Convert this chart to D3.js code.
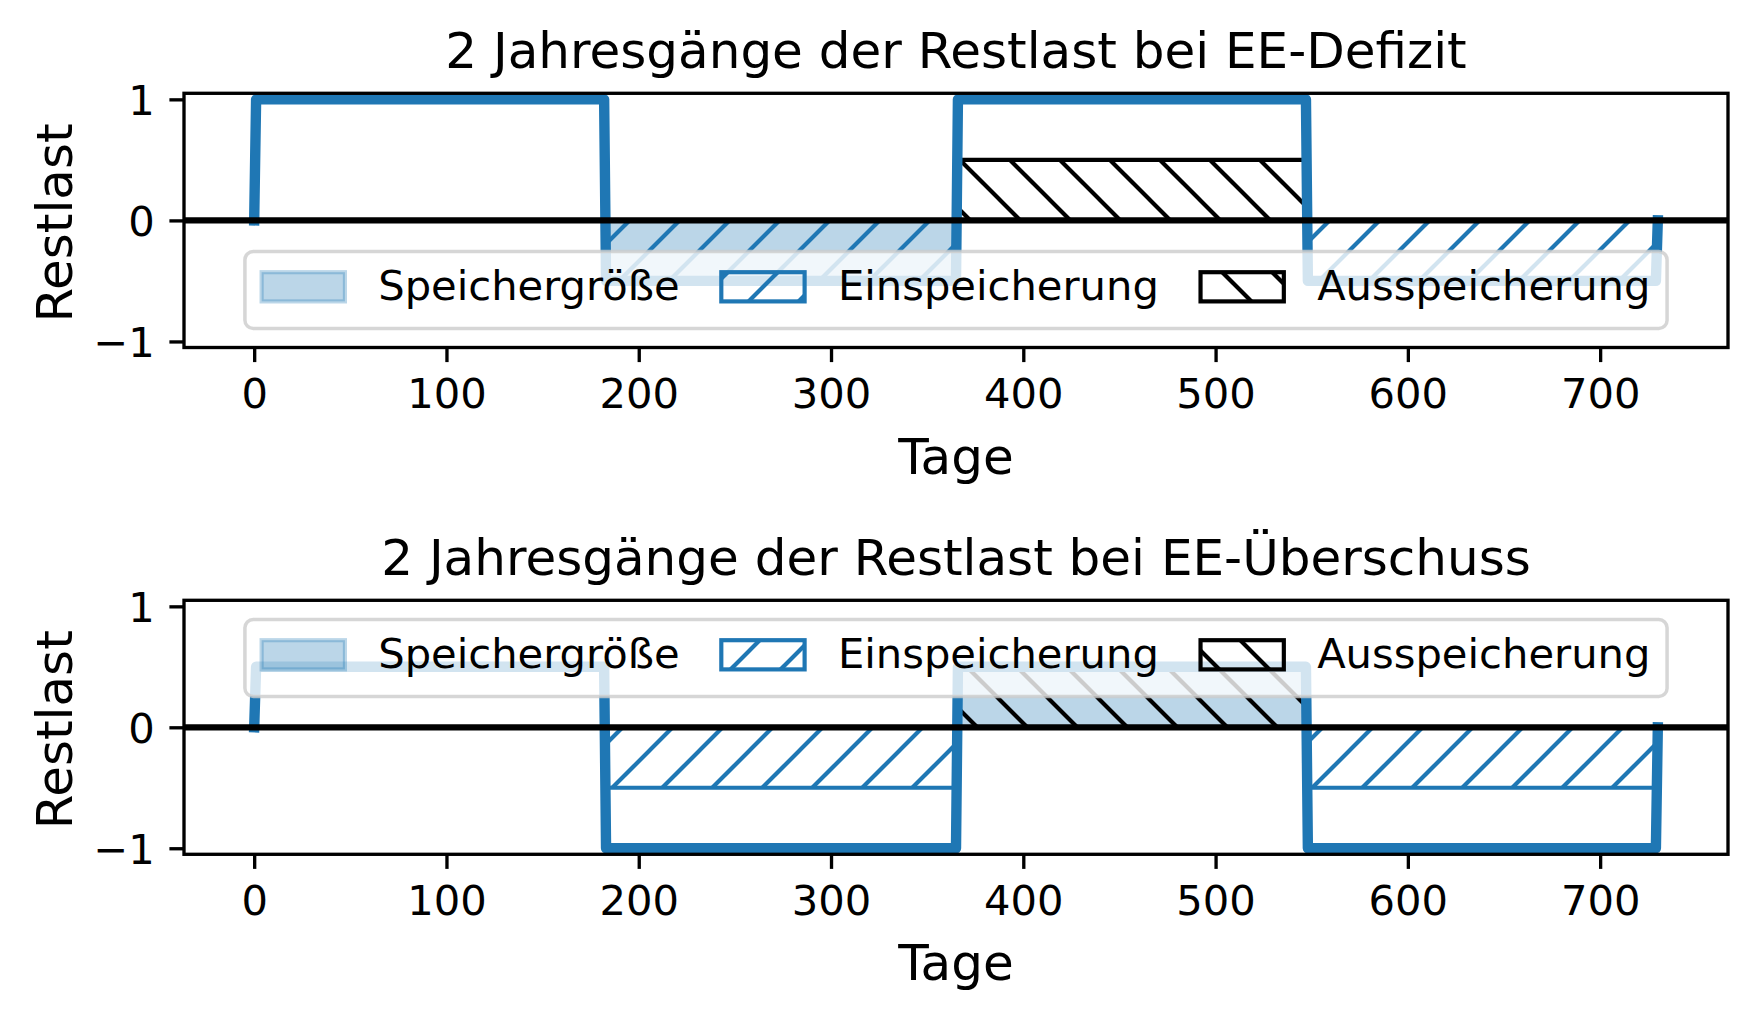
<!DOCTYPE html>
<html><head><meta charset="utf-8">
<script src="https://cdn.jsdelivr.net/npm/d3@7"></script>
<style>body{margin:0;background:#fff}</style>
</head><body>
<script>
// ---- data ----
const days = [0, 1, 182, 183, 365, 366, 547, 548, 729, 730];
const restlastDefizit = [0, 1, 1, -0.5, -0.5, 1, 1, -0.5, -0.5, 0];
const restlastUeberschuss = [0, 0.5, 0.5, -1, -1, 0.5, 0.5, -1, -1, 0];
// [startDay, endDay, level] — filled between 0 and level
const speicherDefizit = [[183, 365, -0.5]];
const einDefizit = [[183, 365, -0.5], [548, 729, -0.5]];
const ausDefizit = [[366, 547, 0.5]];
const speicherUeberschuss = [[366, 547, 0.5]];
const einUeberschuss = [[183, 365, -0.5], [548, 729, -0.5]];
const ausUeberschuss = [[366, 547, 0.5]];
const xTicks = [0, 100, 200, 300, 400, 500, 600, 700];
const yTicks = [-1, 0, 1];
const titles = ["2 Jahresgänge der Restlast bei EE-Defizit", "2 Jahresgänge der Restlast bei EE-Überschuss"];
const legendLabels = ["Speichergröße", "Einspeicherung", "Ausspeicherung"];

// ---- layout ----
const W = 1756, H = 1020;
const BLUE = "#1f77b4";
const FS_TICK = 41.67, FS_TITLE = 50;
const L = 184, R = 1728;
const svg = d3.select("body").append("svg").attr("width", W).attr("height", H)
  .style("font-family", '"DejaVu Sans", sans-serif');
svg.append("rect").attr("width", W).attr("height", H).attr("fill", "#fff");

const defs = svg.append("defs");
function hatch(id, color, dir) {
  const p = defs.append("pattern").attr("id", id).attr("patternUnits", "userSpaceOnUse")
    .attr("width", 50).attr("height", 50);
  const segs = dir === "/" ?
    [[0, 50, 50, 0], [-10, 10, 10, -10], [40, 60, 60, 40]] :
    [[0, 0, 50, 50], [-10, 40, 10, 60], [40, -10, 60, 10]];
  segs.forEach(s => p.append("line").attr("x1", s[0]).attr("y1", s[1]).attr("x2", s[2]).attr("y2", s[3])
    .attr("stroke", color).attr("stroke-width", 4.17));
}
hatch("hBlue", BLUE, "/");
hatch("hBlack", "#000", "\\");

const x = d3.scaleLinear().domain([-36.5, 766.5]).range([L, R]);

function panel(top, bottom, title, values, speicher, ein, aus, legendTop) {
  const y = d3.scaleLinear().domain([-1.05, 1.05]).range([bottom, top]);
  const area = d3.area().x(d => x(d[0])).y0(y(0)).y1(d => y(d[1]));
  const seg = s => area([[s[0], s[2]], [s[1], s[2]]]);

  // fills
  svg.append("g").selectAll("path").data(speicher).join("path").attr("d", seg)
    .attr("fill", BLUE).attr("fill-opacity", 0.3)
    .attr("stroke", BLUE).attr("stroke-opacity", 0.3).attr("stroke-width", 4.17);
  svg.append("g").selectAll("path").data(ein).join("path").attr("d", seg)
    .attr("fill", "url(#hBlue)").attr("stroke", BLUE).attr("stroke-width", 4.17);
  svg.append("g").selectAll("path").data(aus).join("path").attr("d", seg)
    .attr("fill", "url(#hBlack)").attr("stroke", "#000").attr("stroke-width", 4.17);

  // line
  const line = d3.line().x((d, i) => x(days[i])).y(d => y(d));
  svg.append("path").attr("d", line(values)).attr("fill", "none")
    .attr("stroke", BLUE).attr("stroke-width", 10.4)
    .attr("stroke-linejoin", "round").attr("stroke-linecap", "square");

  // zero line
  svg.append("line").attr("x1", L).attr("x2", R).attr("y1", y(0)).attr("y2", y(0))
    .attr("stroke", "#000").attr("stroke-width", 6.25);

  // spines
  svg.append("rect").attr("x", L).attr("y", top).attr("width", R - L).attr("height", bottom - top)
    .attr("fill", "none").attr("stroke", "#000").attr("stroke-width", 3.33);

  // axes
  const gx = svg.append("g").attr("transform", `translate(0,${bottom})`)
    .call(d3.axisBottom(x).tickValues(xTicks).tickSize(14.6).tickPadding(14.6).tickFormat(d3.format("d")));
  const gy = svg.append("g").attr("transform", `translate(${L},0)`)
    .call(d3.axisLeft(y).tickValues(yTicks).tickSize(14.6).tickPadding(14.6).tickFormat(d3.format("d")));
  [gx, gy].forEach(g => {
    g.select(".domain").remove();
    g.selectAll(".tick line").attr("stroke", "#000").attr("stroke-width", 3.33);
    g.selectAll(".tick text").attr("fill", "#000").style("font-size", FS_TICK + "px")
      .style("font-family", '"DejaVu Sans", sans-serif');
  });
  gx.selectAll(".tick text").attr("dy", "0.76em");
  gy.selectAll(".tick text").attr("dy", "0.37em");

  const cx = (L + R) / 2;
  svg.append("text").attr("x", cx).attr("y", top - 25).attr("text-anchor", "middle")
    .style("font-size", FS_TITLE + "px").text(title);
  svg.append("text").attr("x", cx).attr("y", bottom + 126).attr("text-anchor", "middle")
    .style("font-size", FS_TITLE + "px").text("Tage");
  const ymid = (top + bottom) / 2 + 2.5;
  svg.append("text").attr("transform", `translate(72,${ymid}) rotate(-90)`).attr("text-anchor", "middle")
    .style("font-size", FS_TITLE + "px").text("Restlast");

  // legend
  const bp = 16.7, hl = 83.3, hh = 29.2, htp = 33.3, cs = 41.67, lh = 77;
  const widths = legendLabels.map(t => {
    const tt = svg.append("text").style("font-size", FS_TICK + "px").text(t);
    const w = tt.node().getComputedTextLength(); tt.remove(); return w;
  });
  const total = 2 * bp + d3.sum(widths) + legendLabels.length * (hl + htp) + (legendLabels.length - 1) * cs;
  const lx = cx - total / 2;
  svg.append("rect").attr("x", lx).attr("y", legendTop).attr("width", total).attr("height", lh)
    .attr("rx", 8.3).attr("fill", "#fff").attr("fill-opacity", 0.8)
    .attr("stroke", "#ccc").attr("stroke-opacity", 0.8).attr("stroke-width", 3.5);
  let cur = lx + bp;
  const hc = legendTop + 35.3;
  legendLabels.forEach((t, i) => {
    const r = svg.append("rect").attr("x", cur).attr("y", hc - hh / 2).attr("width", hl).attr("height", hh)
      .attr("stroke-width", 4.17);
    if (i === 0) r.attr("fill", BLUE).attr("fill-opacity", 0.3).attr("stroke", BLUE).attr("stroke-opacity", 0.3);
    else if (i === 1) r.attr("fill", "url(#hBlue)").attr("stroke", BLUE);
    else r.attr("fill", "url(#hBlack)").attr("stroke", "#000");
    svg.append("text").attr("x", cur + hl + htp).attr("y", legendTop + 48.6)
      .style("font-size", FS_TICK + "px").text(t);
    cur += hl + htp + widths[i] + cs;
  });
}

panel(93.3, 347.5, titles[0], restlastDefizit, speicherDefizit, einDefizit, ausDefizit, 251.5);
panel(600.3, 854.3, titles[1], restlastUeberschuss, speicherUeberschuss, einUeberschuss, ausUeberschuss, 619.5);
</script>
</body></html>
